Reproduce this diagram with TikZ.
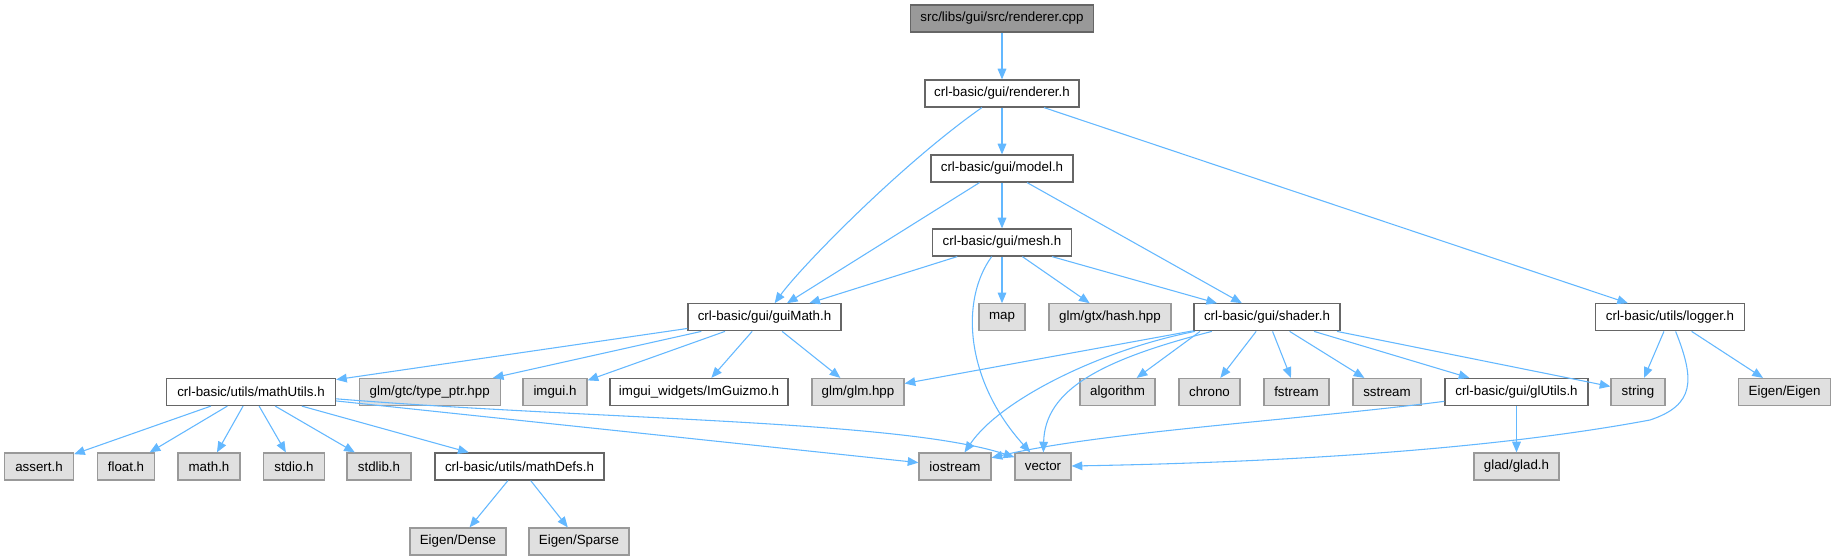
\documentclass[tikz,border=0pt]{standalone}
\usepackage{fontspec}
\setmainfont{Liberation Sans}
\usetikzlibrary{arrows.meta}
\definecolor{dxedge}{HTML}{63B8FF}
\definecolor{dxdark}{HTML}{666666}
\definecolor{dxmid}{HTML}{999999}
\definecolor{dxfill}{HTML}{E0E0E0}

\begin{document}
\begin{tikzpicture}[x=0.75pt, y=-0.75pt,
  hdr/.style={rectangle, draw=dxdark, line width=0.9pt, fill=white, minimum height=20.25pt,
              inner sep=0pt, font=\fontsize{10}{12}\selectfont},
  ext/.style={hdr, draw=dxmid, fill=dxfill},
  srcf/.style={hdr, fill=dxmid},
  wd/.style={minimum width=#1*0.75pt},
  dep/.style={draw=dxedge, line width=0.8pt, -{Triangle[length=8pt,width=6.5pt]}}]
\path[use as bounding box, fill=white] (0,0) rectangle (1836,560);
% top chain
\node[srcf, wd=183] (cpp) at (1002,18.5) {src/libs/gui/src/renderer.cpp};
\node[hdr, wd=154] (rh) at (1002,93.5) {crl-basic/gui/renderer.h};
\node[hdr, wd=142] (md) at (1002,168.5) {crl-basic/gui/model.h};
\node[hdr, wd=139] (ms) at (1002,242.5) {crl-basic/gui/mesh.h};
% row 4
\node[hdr, wd=153] (gm) at (764.5,317.3) {crl-basic/gui/guiMath.h};
\node[ext, wd=46] (mp) at (1002,317.3) {map};
\node[ext, wd=122] (hs) at (1110,317.3) {glm/gtx/hash.hpp};
\node[hdr, wd=146] (sh) at (1267,317.3) {crl-basic/gui/shader.h};
\node[hdr, wd=149] (lg) at (1670,317.3) {crl-basic/utils/logger.h};
% row 5
\node[hdr, wd=169] (mu) at (251,392) {crl-basic/utils/mathUtils.h};
\node[ext, wd=141] (tp) at (429.7,392) {glm/gtc/type\_ptr.hpp};
\node[ext, wd=64] (ig) at (555,392) {imgui.h};
\node[hdr, wd=178] (gz) at (699,392) {imgui\_widgets/ImGuizmo.h};
\node[ext, wd=92] (gl) at (858,392) {glm/glm.hpp};
\node[ext, wd=75] (al) at (1117.5,392) {algorithm};
\node[ext, wd=61] (ch) at (1209.5,392) {chrono};
\node[ext, wd=65] (fs) at (1296.5,392) {fstream};
\node[ext, wd=68] (ss) at (1387,392) {sstream};
\node[hdr, wd=143] (gu) at (1516.5,392) {crl-basic/gui/glUtils.h};
\node[ext, wd=54] (st) at (1638,392) {string};
\node[ext, wd=92] (ee) at (1784.6,392) {Eigen/Eigen};
% row 6
\node[ext, wd=69] (as) at (39,466.5) {assert.h};
\node[ext, wd=57] (fl) at (126,466.5) {float.h};
\node[ext, wd=62] (mh) at (209,466.5) {math.h};
\node[ext, wd=61] (sd) at (294,466.5) {stdio.h};
\node[ext, wd=64] (sl) at (379,466.5) {stdlib.h};
\node[hdr, wd=169] (mf) at (519.5,466.5) {crl-basic/utils/mathDefs.h};
\node[ext, wd=72] (io) at (955,466.5) {iostream};
\node[ext, wd=56] (vc) at (1043,466.5) {vector};
\node[ext, wd=85] (gd) at (1516.5,466.5) {glad/glad.h};
% row 7
\node[ext, wd=96] (dn) at (458,541.5) {Eigen/Dense};
\node[ext, wd=100] (sp) at (579,541.5) {Eigen/Sparse};

% includes
\draw[dep] (cpp) -- (rh);
\draw[dep] (rh) -- (md);
\draw[dep] (rh) .. controls (900,165) and (800,268) .. (gm);
\draw[dep] (rh) -- (lg);
\draw[dep] (md) -- (ms);
\draw[dep] (md) -- (gm);
\draw[dep] (md) -- (sh);
\draw[dep] (ms) -- (gm);
\draw[dep] (ms) -- (mp);
\draw[dep] (ms) -- (hs);
\draw[dep] (ms) -- (sh);
\draw[dep] (ms) .. controls (960,300) and (965,380) .. (vc);
\draw[dep] (gm) -- (mu);
\draw[dep] (gm) -- (tp);
\draw[dep] (gm) -- (ig);
\draw[dep] (gm) -- (gz);
\draw[dep] (gm) -- (gl);
\draw[dep] (sh) -- (gl);
\draw[dep] (sh) .. controls (1100,350) and (1000,400) .. (io);
\draw[dep] (sh) .. controls (1100,360) and (1045,390) .. (vc);
\draw[dep] ([xshift=5pt]sh.south west) -- (al);
\draw[dep] (sh) -- (ch);
\draw[dep] (sh) -- (fs);
\draw[dep] (sh) -- (ss);
\draw[dep] (sh) -- (gu);
\draw[dep] (sh) -- (st);
\draw[dep] (lg) -- (st);
\draw[dep] (lg) -- (ee);
\draw[dep] (lg) .. controls (1695,380) and (1695,405) .. (1650,420)
  .. controls (1500,448) and (1300,462) .. (vc);
\draw[dep] (gu) -- (gd);
\draw[dep] (gu) .. controls (1300,420) and (1100,432) .. (io);
\draw[dep] (mu) -- (as);
\draw[dep] (mu) -- (fl);
\draw[dep] (mu) -- (mh);
\draw[dep] (mu) -- (sd);
\draw[dep] (mu) -- (sl);
\draw[dep] (mu) -- (mf);
\draw[dep] (mu) -- (io);
\draw[dep] (mu) .. controls (600,420) and (900,420) .. (vc);
\draw[dep] (mf) -- (dn);
\draw[dep] (mf) -- (sp);
\end{tikzpicture}
\end{document}
